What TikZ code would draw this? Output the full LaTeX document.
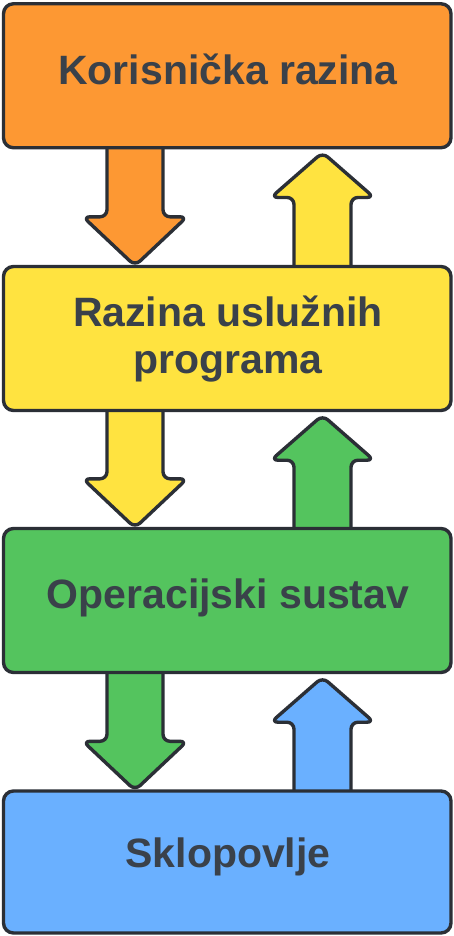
\documentclass[tikz,border=0pt]{standalone}
\usepackage{fontspec}
\setmainfont{Liberation Sans}
\usetikzlibrary{calc,backgrounds}
\definecolor{cOrange}{HTML}{FD9833}
\definecolor{cYellow}{HTML}{FFE340}
\definecolor{cGreen}{HTML}{54C45E}
\definecolor{cBlue}{HTML}{6AB0FF}
\definecolor{cStroke}{HTML}{2B2F36}
\definecolor{cText}{HTML}{3A414A}
\tikzset{
  layerbox/.style={draw=cStroke, line width=3.4pt, rounded corners=10pt,
    minimum width=447.5pt, minimum height=144pt, inner sep=0pt},
  layertext/.style={text=cText, font=\fontsize{41}{46.5}\selectfont\bfseries,
    align=center, inner sep=0pt, anchor=base},
  fatarrow/.style={draw=cStroke, line width=3.4pt, rounded corners=7pt, line join=round},
}
% down arrow from upper node #1 to lower node #2, colour #3
\newcommand\dnarrowshape[3]{%
  \draw[fatarrow, fill=#3]
    ($(#1.south)+(-120.25,-10)$) --
    ($(#2.north)+(-120.25,-48)$) --
    ($(#2.north)+(-144.25,-48)$) --
    ($(#2.north)+(-92.25,1)$) --
    ($(#2.north)+(-40.25,-48)$) --
    ($(#2.north)+(-64.25,-48)$) --
    ($(#1.south)+(-64.25,-10)$) -- cycle;}
% up arrow from lower node #2 to upper node #1, colour #3
\newcommand\uparrowshape[3]{%
  \draw[fatarrow, fill=#3]
    ($(#2.north)+(66.75,10)$) --
    ($(#1.south)+(66.75,48)$) --
    ($(#1.south)+(43.75,48)$) --
    ($(#1.south)+(95.25,3)$) --
    ($(#1.south)+(146.75,48)$) --
    ($(#1.south)+(123.75,48)$) --
    ($(#2.north)+(123.75,10)$) -- cycle;}
\begin{document}
\begin{tikzpicture}[x=1pt,y=-1pt]
\useasboundingbox (0,0) rectangle (454,936);
\node[layerbox, fill=cOrange] (user) at (227.25,75.75) {};
\node[layerbox, fill=cYellow] (util) at (227.25,338.5) {};
\node[layerbox, fill=cGreen]  (os)   at (227.25,600.5) {};
\node[layerbox, fill=cBlue, minimum height=142pt] (hw) at (227.25,862) {};
\node[layertext] (tuser) at (228,85) {Korisnička razina};
\node[layertext] (tutil) at (228,373) {Razina uslužnih\\programa};
\node[layertext] (tos)   at (228,608) {Operacijski sustav};
\node[layertext] (thw)   at (228,867) {Sklopovlje};
\begin{scope}[on background layer]
  \fill[white] (0,0) rectangle (454,936);
  \dnarrowshape{user}{util}{cOrange}
  \uparrowshape{user}{util}{cYellow}
  \dnarrowshape{util}{os}{cYellow}
  \uparrowshape{util}{os}{cGreen}
  \dnarrowshape{os}{hw}{cGreen}
  \uparrowshape{os}{hw}{cBlue}
\end{scope}
\end{tikzpicture}
\end{document}
